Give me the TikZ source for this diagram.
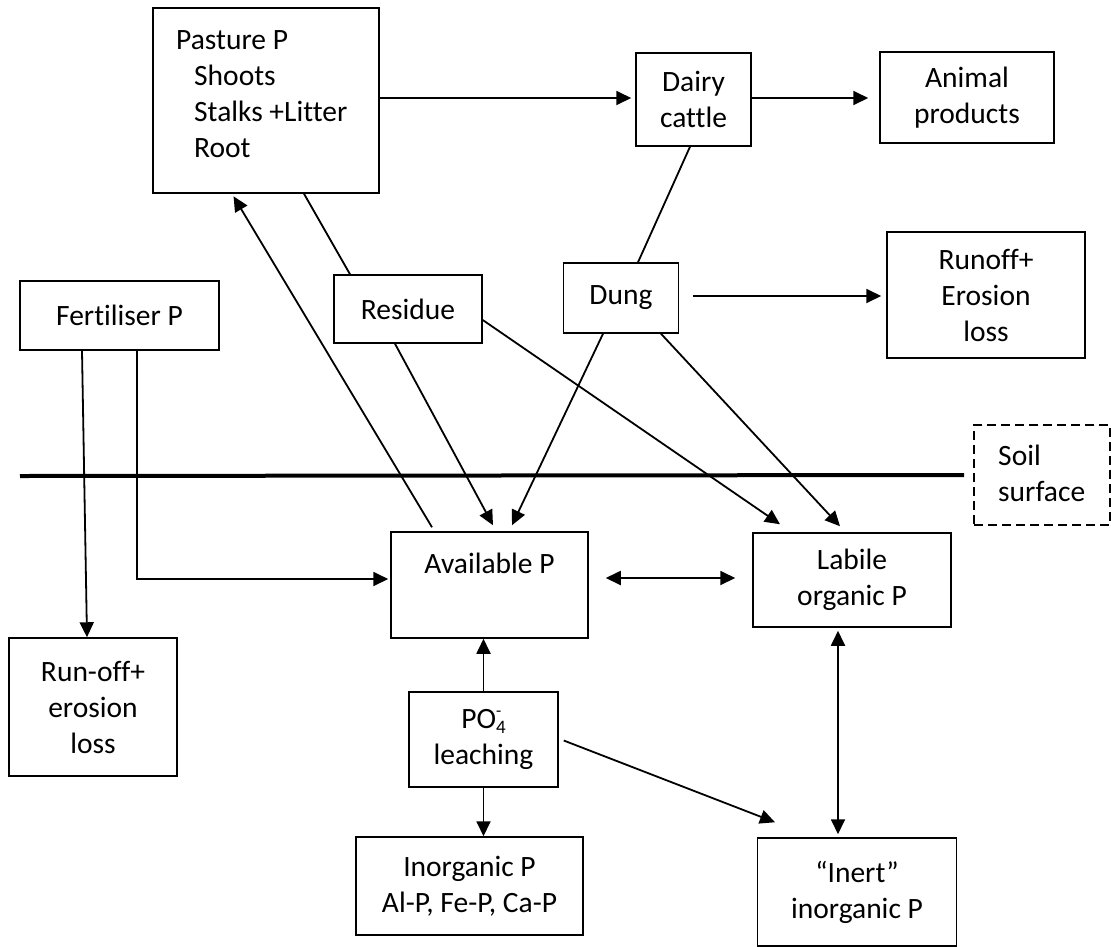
\documentclass[tikz,border=0pt]{standalone}
\usepackage{fontspec}
\setmainfont[Ligatures={TeX,NoCommon}]{Carlito}
\usetikzlibrary{arrows.meta,calc}
\begin{document}
\begin{tikzpicture}[x=1pt,y=-1pt,
  box/.style={draw, line width=1.5pt, inner sep=0pt, align=center, font=\fontsize{29.5}{36}\selectfont},
  txt/.style={inner sep=0pt, align=left, font=\fontsize{29.5}{36}\selectfont},
  dbox/.style={draw, line width=2pt, dash pattern=on 9pt off 5pt, inner sep=0pt},
  arr/.style={line width=1.8pt, -{Triangle[length=15pt,width=14pt]}},
  darr/.style={line width=1.8pt, {Triangle[length=15pt,width=14pt]}-{Triangle[length=15pt,width=14pt]}},
  ln/.style={line width=1.8pt}]
\useasboundingbox (0,0) rectangle (1111,946);

% boxes
\node[box, minimum width=226pt, minimum height=185pt] (pasture) at (266,100.5) {};
\node[txt, anchor=west] (pastureText) at (176,94) {Pasture P\\\hspace*{18pt}Shoots\\\hspace*{18pt}Stalks +Litter\\\hspace*{18pt}Root};
\node[box, minimum width=115pt, minimum height=93pt] (dairy) at (693.5,99.5) {Dairy\\cattle};
\node[box, minimum width=174pt, minimum height=91pt] (animal) at (967,97.5) {Animal\\products};
\node[box, minimum width=199pt, minimum height=69pt] (fert) at (119.5,315.5) {Fertiliser P};
\node[box, minimum width=148pt, minimum height=68pt] (residue) at (408,309) {Residue};
\node[box, minimum width=115pt, minimum height=70pt] (dung) at (621,298) {Dung};
\node[box, minimum width=198pt, minimum height=126pt] (runoff) at (986,295) {Runoff+\\Erosion\\loss};
\node[dbox, minimum width=136pt, minimum height=100pt] (soil) at (1042,475) {};
\node[txt, anchor=west] (soilText) at (998,473) {Soil\\surface};
\node[box, minimum width=197pt, minimum height=106pt] (avail) at (489.5,585) {};
\node[txt] (availText) at (489.5,563) {Available P};
\node[box, minimum width=198pt, minimum height=94pt] (labile) at (852,580) {Labile\\organic P};
\node[box, minimum width=168pt, minimum height=138pt] (runoffb) at (93,707) {Run-off+\\erosion\\loss};
\node[box, minimum width=149pt, minimum height=95pt] (po4) at (483.5,739.5) {PO\rlap{\raisebox{12pt}{\fontsize{17}{17}\selectfont -}}\raisebox{-5pt}{\fontsize{19}{19}\selectfont 4}\\leaching};
\node[box, minimum width=227pt, minimum height=98pt] (inorg) at (469.5,886) {Inorganic P\\Al-P, Fe-P, Ca-P};
\node[box, minimum width=199pt, minimum height=108pt] (inert) at (857,892) {“Inert”\\inorganic P};

% soil surface line
\coordinate (soilL) at (20,476);
\draw[line width=4pt] (soilL) -- ([xshift=-9pt]soil.west);

% connectors
\draw[arr, shorten >=4pt] ([yshift=2.5pt]pasture.east) -- ([yshift=1.5pt]dairy.west);
\draw[arr, shorten >=11pt] ([yshift=1.5pt]dairy.east) -- ([yshift=-0.5pt]animal.west);
\draw[ln] ([xshift=-3.5pt]dairy.south) -- ([xshift=17pt]dung.north);
\draw[ln] ([xshift=38pt]pasture.south) -- ([xshift=-58pt]residue.north);
\draw[arr, shorten >=5pt] ([xshift=13.5pt,yshift=2pt]dung.east) -- ([yshift=-1pt]runoff.west);
\draw[arr] ([xshift=-37.5pt]fert.south) -- ([xshift=-6pt]runoffb.north);
\draw[arr, shorten >=2pt] ([xshift=17.5pt]fert.south) |- ([yshift=6pt]avail.west);
\draw[arr, shorten >=3pt] ([xshift=-57.5pt,yshift=4pt]avail.north) -- ([xshift=-34pt]pasture.south);
\draw[arr] ([xshift=-13pt]residue.south) -- ([xshift=3.5pt,yshift=6pt]avail.north);
\draw[arr] ([yshift=-11pt]residue.east) -- ([xshift=-72pt,yshift=8pt]labile.north);
\draw[arr] ([xshift=-18pt]dung.south) -- ([xshift=22.5pt,yshift=6pt]avail.north);
\draw[arr] ([xshift=40pt]dung.south) -- ([xshift=-12pt,yshift=6pt]labile.north);
\draw[darr] ([xshift=17pt,yshift=7pt]avail.east) -- ([xshift=-17pt,yshift=2pt]labile.west);
\draw[arr] (po4.north) -- (po4.north |- avail.south);
\draw[arr] (po4.south) -- (po4.south |- inorg.north);
\draw[arr] ([xshift=5pt,yshift=-1pt]po4.east) -- ([xshift=-82pt,yshift=15pt]inert.north);
\draw[darr, shorten <=3pt, shorten >=3pt] ([xshift=-14pt]labile.south) -- ([xshift=-19pt]inert.north);
\end{tikzpicture}
\end{document}
